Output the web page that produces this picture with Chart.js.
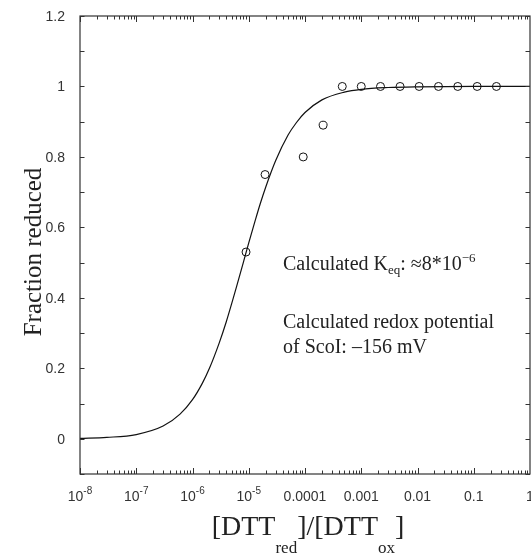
<!DOCTYPE html>
<html lang="en">
<head>
<meta charset="UTF-8">
<title>Fraction reduced</title>
<script src="https://cdn.jsdelivr.net/npm/chart.js"></script>
<style>
  html, body { margin: 0; padding: 0; background: #fff; }
  #wrap { width: 531px; height: 556px; }
</style>
</head>
<body>
<div id="wrap"><canvas id="grafico" width="531" height="556"></canvas></div>
<script>
// measured points (open circles)
var ratioPoints = [8.95e-6, 1.95e-5, 9.3e-5, 2.1e-4, 4.6e-4, 1.0e-3, 2.2e-3, 4.9e-3, 1.07e-2, 2.36e-2, 5.2e-2, 0.115, 0.253];
var fractionPoints = [0.53, 0.75, 0.80, 0.89, 1, 1, 1, 1, 1, 1, 1, 1, 1];

// fitted curve
var curveRatio = [1e-8, 3e-8, 1e-7, 3e-7, 6e-7, 1e-6, 1.5e-6, 2e-6, 3e-6, 4e-6, 5e-6, 6e-6, 8e-6, 1e-5, 1.3e-5, 1.6e-5, 2e-5, 3e-5, 5e-5, 7e-5, 1e-4, 2e-4, 5e-4, 1e-3, 3e-3, 1e-2, 0.1, 1];
var curveFraction = [0.001, 0.004, 0.012, 0.036, 0.070, 0.111, 0.158, 0.200, 0.273, 0.333, 0.385, 0.429, 0.500, 0.556, 0.619, 0.667, 0.714, 0.789, 0.862, 0.897, 0.926, 0.962, 0.984, 0.992, 0.997, 0.999, 1.0, 1.0];

// tick labels
var xTickValues = [1e-8, 1e-7, 1e-6, 1e-5, 1e-4, 1e-3, 1e-2, 0.1, 1];
var xTickLabels = ['10^-8', '10^-7', '10^-6', '10^-5', '0.0001', '0.001', '0.01', '0.1', '1'];
var yTickValues = [0, 0.2, 0.4, 0.6, 0.8, 1, 1.2];
var yTickLabels = ['0', '0.2', '0.4', '0.6', '0.8', '1', '1.2'];

var SERIF = '"Liberation Serif", "Times New Roman", serif';
var SANS = '"Liberation Sans", Arial, sans-serif';
var INK = '#222';

// draw text made of pieces (sub / superscripts)
function drawRich(ctx, parts, x, y, align) {
    var total = 0;
    parts.forEach(function (p) {
        ctx.font = p.size + 'px ' + p.family;
        p.w = ctx.measureText(p.t).width;
        total += p.w;
    });
    var cx = x;
    if (align === 'center') cx = x - total / 2;
    if (align === 'right') cx = x - total;
    ctx.textAlign = 'left';
    ctx.textBaseline = 'alphabetic';
    parts.forEach(function (p) {
        ctx.font = p.size + 'px ' + p.family;
        ctx.fillText(p.t, cx, y + (p.dy || 0));
        cx += p.w;
    });
}

var decorPlugin = {
    id: 'decor',
    afterDraw: function (chart) {
        var ctx = chart.ctx;
        var a = chart.chartArea;
        var xs = chart.scales.x, ys = chart.scales.y;
        ctx.save();
        ctx.strokeStyle = '#333';
        ctx.lineWidth = 1.2;
        ctx.strokeRect(a.left, a.top, a.right - a.left, a.bottom - a.top);

        // inward ticks on x (top and bottom)
        ctx.lineWidth = 1;
        for (var e = -8; e < 0; e++) {
            for (var k = 1; k <= 9; k++) {
                var px = Math.round(xs.getPixelForValue(k * Math.pow(10, e))) + 0.5;
                var len = k === 1 ? 6 : 3.5;
                ctx.beginPath();
                ctx.moveTo(px, a.bottom); ctx.lineTo(px, a.bottom - len);
                ctx.moveTo(px, a.top); ctx.lineTo(px, a.top + len);
                ctx.stroke();
            }
        }
        // inward ticks on y (left and right)
        for (var i = -1; i <= 12; i++) {
            var py = Math.round(ys.getPixelForValue(i / 10)) + 0.5;
            ctx.beginPath();
            ctx.moveTo(a.left, py); ctx.lineTo(a.left + 4.5, py);
            ctx.moveTo(a.right, py); ctx.lineTo(a.right - 4.5, py);
            ctx.stroke();
        }

        // tick labels
        ctx.fillStyle = '#333';
        xTickValues.forEach(function (v, idx) {
            var lab = xTickLabels[idx];
            var px = xs.getPixelForValue(v);
            var parts;
            if (lab.indexOf('^') >= 0) {
                var s = lab.split('^');
                parts = [{ t: s[0], size: 14, family: SANS }, { t: s[1], size: 10, family: SANS, dy: -7 }];
            } else {
                parts = [{ t: lab, size: 14, family: SANS }];
            }
            drawRich(ctx, parts, px, 501, 'center');
        });
        yTickValues.forEach(function (v, idx) {
            var py = ys.getPixelForValue(v);
            drawRich(ctx, [{ t: yTickLabels[idx], size: 14, family: SANS }], 65, py + 5, 'right');
        });

        // axis titles
        ctx.fillStyle = INK;
        drawRich(ctx, [
            { t: '[DTT', size: 28, family: SERIF },
            { t: 'red', size: 17, family: SERIF, dy: 18 },
            { t: ']/[DTT', size: 28, family: SERIF },
            { t: 'ox', size: 17, family: SERIF, dy: 18 },
            { t: ']', size: 28, family: SERIF }
        ], 308, 535, 'center');

        ctx.save();
        ctx.translate(41, 252);
        ctx.rotate(-Math.PI / 2);
        drawRich(ctx, [{ t: 'Fraction reduced', size: 25, family: SERIF }], 0, 0, 'center');
        ctx.restore();

        // annotation
        drawRich(ctx, [
            { t: 'Calculated K', size: 20, family: SERIF },
            { t: 'eq', size: 13, family: SERIF, dy: 4 },
            { t: ': \u22488*10', size: 20, family: SERIF },
            { t: '\u22126', size: 13, family: SERIF, dy: -8 }
        ], 283, 270, 'left');
        drawRich(ctx, [{ t: 'Calculated redox potential', size: 20, family: SERIF }], 283, 328, 'left');
        drawRich(ctx, [{ t: 'of ScoI: \u2013156 mV', size: 20, family: SERIF }], 283, 353, 'left');
        ctx.restore();
    }
};

var grafico = new Chart(document.getElementById('grafico').getContext('2d'), {
    type: 'scatter',
    data: {
        datasets: [{
            label: 'Fit',
            data: curveRatio.map(function (r, i) { return { x: r, y: curveFraction[i] }; }),
            showLine: true,
            borderColor: '#111',
            borderWidth: 1.2,
            pointRadius: 0,
            cubicInterpolationMode: 'monotone',
            fill: false
        }, {
            label: 'Measured',
            data: ratioPoints.map(function (r, i) { return { x: r, y: fractionPoints[i] }; }),
            showLine: false,
            pointRadius: 4,
            pointBorderWidth: 1,
            pointBorderColor: '#111',
            pointBackgroundColor: 'rgba(0,0,0,0)'
        }]
    },
    options: {
        responsive: false,
        animation: false,
        layout: { autoPadding: false, padding: { top: 16, right: 1, left: 0, bottom: 0 } },
        plugins: { legend: { display: false }, tooltip: { enabled: false } },
        scales: {
            x: {
                type: 'logarithmic',
                min: 1e-8,
                max: 1,
                grid: { display: false, drawTicks: false },
                border: { display: false },
                ticks: { display: false },
                afterFit: function (s) { s.height = 82; }
            },
            y: {
                min: -0.1,
                max: 1.2,
                grid: { display: false, drawTicks: false },
                border: { display: false },
                ticks: { display: false },
                afterFit: function (s) { s.width = 80; }
            }
        }
    },
    plugins: [decorPlugin]
});
</script>
</body>
</html>
